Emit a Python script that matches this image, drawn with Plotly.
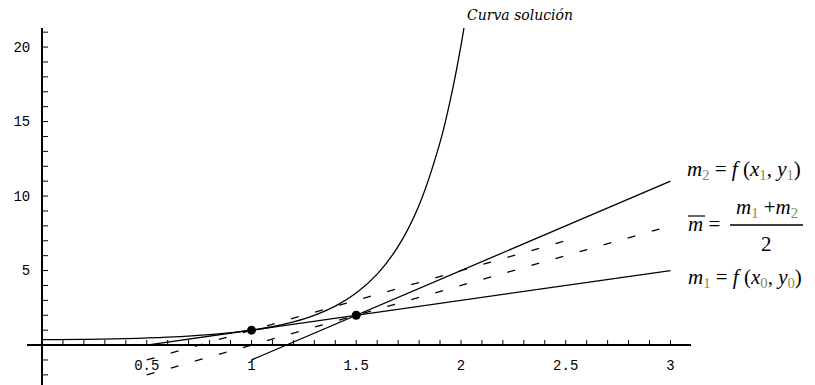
import plotly.graph_objects as go

W, H = 815, 385

# ---- data ----
curve_x = [0.0, 0.2, 0.4, 0.6, 0.8, 1.0, 1.1, 1.2, 1.3, 1.4, 1.5, 1.6, 1.7, 1.8, 1.9, 1.95, 2.0, 2.02]
curve_y = [0.37, 0.38, 0.43, 0.53, 0.70, 1.0, 1.23, 1.55, 1.99, 2.61, 3.49, 4.76, 6.62, 9.39, 13.6, 16.5, 20.1, 21.8]

m1_x = [0.5, 3.0]
m1_y = [0.0, 5.0]
m2_x = [1.0, 3.0]
m2_y = [-1.0, 11.0]
mbar_a_x = [0.5, 2.5]
mbar_a_y = [-1.0, 7.0]
mbar_b_x = [0.5, 3.0]
mbar_b_y = [-2.0, 8.0]
pts_x = [1.0, 1.5]
pts_y = [1.0, 2.0]

x_tickvals = [0.5, 1, 1.5, 2, 2.5, 3]
x_ticktext = ["0.5", "1", "1.5", "2", "2.5", "3"]
x_minor_ticks = [round(0.1 * i, 1) for i in range(1, 31)]
y_tickvals = [5, 10, 15, 20]
y_ticktext = ["5", "10", "15", "20"]
y_minor_ticks = [v for v in range(-2, 22) if v != 0]


def px(x):
    return x / W


def py(y):
    return 1 - y / H


fig = go.Figure()
line_style = dict(color="black", width=1.3)
fig.add_trace(go.Scatter(x=curve_x, y=curve_y, mode="lines", line=dict(color="black", width=1.3, shape="spline")))
fig.add_trace(go.Scatter(x=m1_x, y=m1_y, mode="lines", line=line_style))
fig.add_trace(go.Scatter(x=m2_x, y=m2_y, mode="lines", line=line_style))
fig.add_trace(go.Scatter(x=mbar_a_x, y=mbar_a_y, mode="lines", line=dict(color="black", width=1.3, dash="8px,17px")))
fig.add_trace(go.Scatter(x=mbar_b_x, y=mbar_b_y, mode="lines", line=dict(color="black", width=1.3, dash="8px,17px")))
fig.add_trace(go.Scatter(x=pts_x, y=pts_y, mode="markers", marker=dict(color="black", size=9)))

tickfont = dict(family="Liberation Mono", size=14, color="black")

fig.update_layout(
    width=W, height=H,
    margin=dict(l=0, r=0, t=0, b=0),
    paper_bgcolor="white", plot_bgcolor="white",
    showlegend=False,
    xaxis=dict(
        domain=[px(27), px(691)], range=[-0.0716, 3.098],
        anchor="free", position=py(345),
        showline=True, linecolor="black", linewidth=2,
        showgrid=False, zeroline=False, ticks="",
        tickmode="array", tickvals=x_tickvals, ticktext=x_ticktext,
        tickfont=tickfont, ticklabelstandoff=7,
    ),
    yaxis=dict(
        domain=[0, py(28)], range=[-2.68, 21.28],
        anchor="free", position=px(42),
        showline=True, linecolor="black", linewidth=2,
        showgrid=False, zeroline=False, ticks="",
        tickmode="array", tickvals=y_tickvals, ticktext=y_ticktext,
        tickfont=tickfont, ticklabelstandoff=8,
    ),
)

# tick marks (Mathematica style: pointing into the plot from the axes)
for v in x_minor_ticks:
    fig.add_shape(type="line", xref="x", yref="paper", x0=v, x1=v, y0=py(345), y1=py(340),
                  line=dict(color="black", width=1))
for v in y_minor_ticks:
    fig.add_shape(type="line", xref="paper", yref="y", x0=px(43), x1=px(48), y0=v, y1=v,
                  line=dict(color="black", width=1))

sub_c = "#8a8a4a"
lab_font = dict(family="Liberation Serif", size=21, color="black")


def sub(s):
    return f"<sub><span style='color:{sub_c}'>{s}</span></sub>"


ann = []
ann.append(dict(text="<i>Curva solución</i>", x=px(520), y=py(15), font=dict(family="DejaVu Serif", size=14, color="black"),
                xanchor="center", yanchor="middle"))
ann.append(dict(text=f"<i>m</i>{sub('2')} = <i>f</i> (<i>x</i>{sub('1')}, <i>y</i>{sub('1')})",
                x=px(685), y=py(170), font=lab_font, xanchor="left", yanchor="middle"))
ann.append(dict(text="<i>m</i> =", x=px(686), y=py(224), font=lab_font, xanchor="left", yanchor="middle"))
ann.append(dict(text=f"<i>m</i>{sub('1')} +<i>m</i>{sub('2')}", x=px(767), y=py(208), font=lab_font,
                xanchor="center", yanchor="middle"))
ann.append(dict(text="2", x=px(766), y=py(244), font=lab_font, xanchor="center", yanchor="middle"))
ann.append(dict(text=f"<i>m</i>{sub('1')} = <i>f</i> (<i>x</i>{sub('0')}, <i>y</i>{sub('0')})",
                x=px(686), y=py(278), font=lab_font, xanchor="left", yanchor="middle"))
for a in ann:
    a.update(xref="paper", yref="paper", showarrow=False)
fig.update_layout(annotations=ann)

fig.add_shape(type="line", xref="paper", yref="paper", x0=px(730), x1=px(803), y0=py(225), y1=py(225),
              line=dict(color="black", width=1.5))
fig.add_shape(type="line", xref="paper", yref="paper", x0=px(688), x1=px(705), y0=py(216), y1=py(216),
              line=dict(color="black", width=1.2))

fig.write_html("out.html", config={"displayModeBar": False},
               post_script="document.body.style.margin='0';")
